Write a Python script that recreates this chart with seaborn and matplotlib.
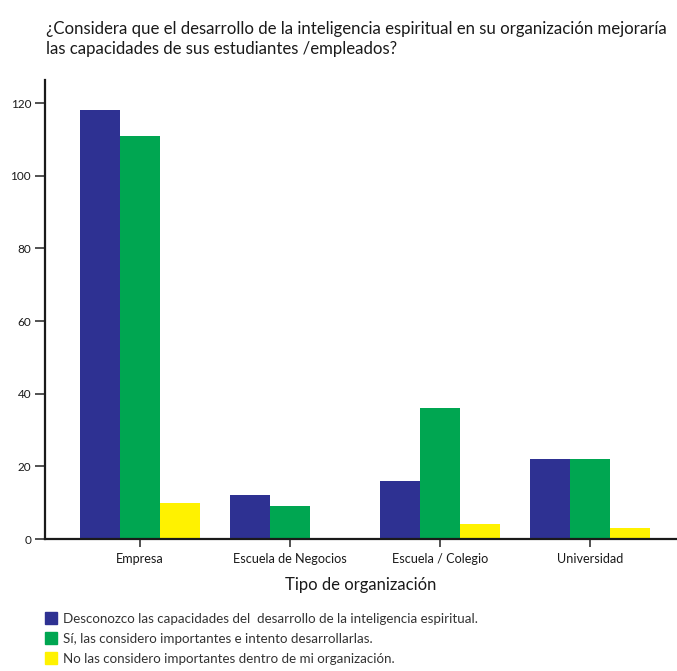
import matplotlib
matplotlib.use("Agg")
import matplotlib.pyplot as plt
import seaborn as sns
import pandas as pd
from matplotlib.lines import Line2D

categories = ["Empresa", "Escuela de Negocios", "Escuela / Colegio", "Universidad"]
series_names = [
    "Desconozco las capacidades del  desarrollo de la inteligencia espiritual.",
    "Sí, las considero importantes e intento desarrollarlas.",
    "No las considero importantes dentro de mi organización.",
]
desconozco = [118, 12, 16, 22]
importantes = [111, 9, 36, 22]
no_importantes = [10, 0, 4, 3]
colors = ["#2E3192", "#00A651", "#FFF200"]

df = pd.DataFrame({
    "Tipo": categories * 3,
    "Respuesta": [series_names[0]] * 4 + [series_names[1]] * 4 + [series_names[2]] * 4,
    "Valor": desconozco + importantes + no_importantes,
})

sns.set_style("white")
plt.rcParams["font.family"] = ["Lato", "DejaVu Sans"]

fig = plt.figure(figsize=(6.77, 6.71), dpi=100)
ax = fig.add_axes([0.0665, 0.1967, 0.9335, 0.6841])
sns.barplot(data=df, x="Tipo", y="Valor", hue="Respuesta", palette=colors,
            width=0.8, saturation=1, linewidth=0, ax=ax, legend=False)

ax.set_xlim(-0.633, 3.58)
ax.set_ylim(0, 126.4)
ax.set_yticks([0, 20, 40, 60, 80, 100, 120])
ax.set_xlabel("Tipo de organización", fontsize=12, labelpad=9, color="#1a1a1a")
ax.set_ylabel("")
ax.tick_params(axis="y", direction="out", length=7, width=1.2, labelsize=8.5, pad=3, left=True, colors="#333333")
ax.tick_params(axis="x", direction="out", length=6, width=1.2, labelsize=9.1, pad=4, bottom=True, colors="#333333")
for lbl in ax.get_xticklabels() + ax.get_yticklabels():
    lbl.set_color("#1a1a1a")
sns.despine(ax=ax, top=True, right=True)
for s in ["left", "bottom"]:
    ax.spines[s].set_linewidth(1.6)
    ax.spines[s].set_color("#1a1a1a")

fig.text(0.068, 0.968, "¿Considera que el desarrollo de la inteligencia espiritual en su organización mejoraría\n"
         "las capacidades de sus estudiantes /empleados?", fontsize=12.1, va="top", ha="left",
         linespacing=1.3, color="#1a1a1a")

handles = [Line2D([0], [0], marker="s", linestyle="", markersize=8, markerfacecolor=c,
                  markeredgecolor=c) for c in colors]
fig.legend(handles, series_names, loc="upper left", bbox_to_anchor=(0.055, 0.095),
           frameon=False, fontsize=9.6, handletextpad=0.35, labelspacing=0.6,
           borderaxespad=0, handlelength=1.2, labelcolor="#333333")

fig.savefig("out.png", dpi=100)
